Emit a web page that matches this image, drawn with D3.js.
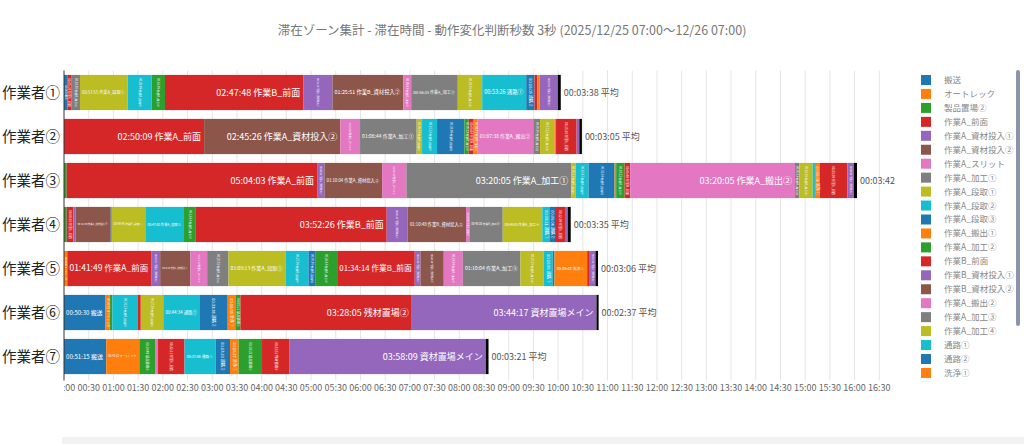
<!DOCTYPE html>
<html>
<head>
<meta charset="utf-8">
<script src="https://d3js.org/d3.v7.min.js"></script>
<style>
  body { margin: 0; background: #fff; }
  svg { display: block; font-family: "Noto Sans CJK JP", "Noto Sans", sans-serif; }
</style>
</head>
<body>
<div id="chart"></div>
<script>
// ---- data ----
var title = "滞在ゾーン集計 - 滞在時間 - 動作変化判断秒数 3秒 (2025/12/25 07:00〜12/26 07:00)";
var workers = ["作業者①", "作業者②", "作業者③", "作業者④", "作業者⑤", "作業者⑥", "作業者⑦"];
var zones = ["搬送", "オートレック", "製品置場②", "作業A_前面", "作業A_資材投入①", "作業A_資材投入②",
  "作業A_スリット", "作業A_加工①", "作業A_段取①", "作業A_段取②", "作業A_段取③", "作業A_搬出①",
  "作業A_加工②", "作業B_前面", "作業B_資材投入①", "作業B_資材投入②", "作業A_搬出②", "作業A_加工③",
  "作業A_加工④", "通路①", "通路②", "洗浄①", "製品置場①", "残材置場②", "資材置場メイン", "残材置場①"];

// [zone index, seconds] in order of time
var seg1 = [[0,240],[3,320],[7,605],[8,3475],[9,1749],[12,969],[13,10068],[14,2135],[15,5151],[16,583],
  [17,3395],[18,1778],[19,3206],[20,605],[3,195],[21,190],[4,1311]];
var seg2 = [[3,10209],[5,9926],[6,1435],[7,4124],[8,393],[9,1093],[10,1989],[12,313],[13,364],[11,291],
  [16,4058],[17,488],[18,1042],[21,124],[3,1501],[4,197]];
var seg3 = [[2,197],[3,18243],[4,532],[5,4204],[6,1770],[7,12005],[8,321],[9,947],[10,1894],[11,117],
  [12,612],[13,408],[16,12005],[17,313],[18,976],[19,168],[21,364],[3,1989],[4,488]];
var seg4 = [[2,197],[3,481],[4,175],[5,2550],[0,73],[8,2448],[9,2820],[12,823],[13,13946],[14,1530],
  [15,4248],[16,240],[17,2433],[18,2885],[19,561],[20,364],[3,729],[4,200]];
var seg5 = [[1,240],[3,6109],[4,656],[5,2208],[6,1217],[7,1552],[8,4153],[9,1676],[10,488],[12,1603],
  [13,5654],[14,415],[15,1698],[16,1384],[17,4204],[18,1698],[19,656],[20,124],[21,2383],[3,189],[4,415]];
var seg6 = [[0,3030],[1,291],[2,197],[9,1873],[3,204],[8,1639],[19,2674],[20,2018],[21,605],[22,321],
  [23,12485],[24,13457]];
var seg7 = [[0,3075],[1,2412],[2,1188],[6,175],[3,1931],[19,2266],[20,1049],[21,627],[22,1705],[23,2011],
  [24,14289]];
var rows = [seg1, seg2, seg3, seg4, seg5, seg6, seg7];
var avgSec = [218, 185, 222, 215, 186, 157, 201];
var tickSec = d3.range(0, 59401, 1800);

// ---- layout ----
var width = 1024, height = 444;
var plotLeft = 64, plotRight = 904, plotTop = 70.5, plotBottom = 378.5;

var svg = d3.select("#chart").append("svg")
  .attr("width", width)
  .attr("height", height);

var defs = svg.append("defs");
defs.append("clipPath").attr("id", "plotClip")
  .append("rect").attr("x", plotLeft).attr("y", 0).attr("width", 897 - plotLeft).attr("height", height);
defs.append("clipPath").attr("id", "legendClip")
  .append("rect").attr("x", 910).attr("y", 66).attr("width", 110).attr("height", 316);

var x = d3.scaleLinear().domain([0, 61200]).range([plotLeft, plotRight]);
var y = d3.scaleBand().domain(workers).range([plotTop, plotBottom])
  .paddingInner(0.2).paddingOuter(0.1);
var color = function(i) { return d3.schemeCategory10[i % 10]; };
var two = d3.format("02d");

function hms(s) {
  return two(Math.floor(s / 3600)) + ":" + two(Math.floor(s % 3600 / 60)) + ":" + two(s % 60);
}
function hm(s) {
  return two(Math.floor(s / 3600)) + ":" + two(s % 3600 / 60);
}

// title
svg.append("text")
  .attr("x", 512).attr("y", 35)
  .attr("text-anchor", "middle")
  .style("font-size", "12.5px")
  .style("fill", "#777")
  .text(title);

// grid lines
svg.append("g").selectAll("line")
  .data(tickSec.slice(1))
  .enter().append("line")
  .attr("x1", function(d) { return x(d); })
  .attr("x2", function(d) { return x(d); })
  .attr("y1", plotTop).attr("y2", plotBottom + 2)
  .attr("stroke", "#e6e6e6")
  .attr("stroke-width", 1);

// x tick labels (left one is cut by the plot edge like the original)
svg.append("g")
  .attr("clip-path", "url(#plotClip)")
  .selectAll("text")
  .data(tickSec)
  .enter().append("text")
  .attr("x", function(d) { return x(d); })
  .attr("y", plotBottom + 12)
  .attr("text-anchor", "middle")
  .style("font-size", "9px")
  .style("fill", "#666")
  .text(function(d) { return hm(d); });

// bars
var bh = y.bandwidth();
rows.forEach(function(segs, r) {
  var g = svg.append("g").attr("class", "row");
  var yy = y(workers[r]);
  var t = 0;
  var items = segs.map(function(s) {
    var o = { z: s[0], sec: s[1], t0: t };
    t += s[1];
    return o;
  });

  g.selectAll("rect.seg")
    .data(items)
    .enter().append("rect")
    .attr("class", "seg")
    .attr("x", function(d) { return x(d.t0); })
    .attr("y", yy)
    .attr("width", function(d) { return x(d.t0 + d.sec) - x(d.t0); })
    .attr("height", bh)
    .attr("fill", function(d) { return color(d.z); });

  // average piece at the end
  g.append("rect")
    .attr("x", x(t))
    .attr("y", yy)
    .attr("width", x(t + avgSec[r]) - x(t))
    .attr("height", bh)
    .attr("fill", "#000");

  g.append("text")
    .attr("clip-path", "url(#plotClip)")
    .attr("x", x(t + avgSec[r]) + 3)
    .attr("y", yy + bh / 2)
    .attr("dy", "0.35em")
    .style("font-size", "9px")
    .style("fill", "#555")
    .text(hms(avgSec[r]) + " 平均");

  // labels inside pieces: wide ones horizontal, narrow ones turned
  items.forEach(function(d) {
    var x0 = x(d.t0), x1 = x(d.t0 + d.sec), w = x1 - x0;
    if (w < 3) return;
    var lbl = g.append("text")
      .style("font-size", "9px")
      .style("fill", "#fff")
      .text(hms(d.sec) + " " + zones[d.z]);
    var len = lbl.node().getComputedTextLength();
    if (w >= 30) {
      var f = Math.min(9, 9 * (w - 5) / len);
      lbl.style("font-size", f + "px")
        .attr("x", x1 - 3)
        .attr("y", yy + bh / 2)
        .attr("dy", "0.35em")
        .attr("text-anchor", "end");
    } else {
      var fv = Math.min(9, 9 * (bh - 6) / len, w - 1);
      lbl.style("font-size", fv + "px")
        .attr("text-anchor", "middle")
        .attr("dy", "0.35em")
        .attr("transform", "translate(" + (x0 + w / 2) + "," + (yy + bh / 2) + ") rotate(90)");
    }
  });
});

// y axis
svg.append("line")
  .attr("x1", plotLeft).attr("x2", plotLeft)
  .attr("y1", plotTop).attr("y2", plotBottom + 2)
  .attr("stroke", "#333");

svg.append("g").selectAll("text")
  .data(workers)
  .enter().append("text")
  .attr("x", plotLeft - 4)
  .attr("y", function(d) { return y(d) + bh / 2; })
  .attr("dy", "0.35em")
  .attr("text-anchor", "end")
  .style("font-size", "14.5px")
  .style("fill", "#222")
  .text(function(d) { return d; });

// legend (scrolling list, only the top part visible)
var legend = svg.append("g").attr("clip-path", "url(#legendClip)");
var item = legend.selectAll("g")
  .data(zones)
  .enter().append("g")
  .attr("transform", function(d, i) { return "translate(921," + (80 + i * 13.95) + ")"; });
item.append("rect")
  .attr("x", 0).attr("y", -5)
  .attr("width", 10).attr("height", 10)
  .attr("fill", function(d, i) { return color(i); });
item.append("text")
  .attr("x", 23).attr("dy", "0.35em")
  .style("font-size", "8.5px")
  .style("fill", "#888")
  .text(function(d) { return d; });

// scroll bar
svg.append("rect")
  .attr("x", 1016).attr("y", 70)
  .attr("width", 4).attr("height", 256)
  .attr("rx", 2)
  .attr("fill", "#8d93aa");

// slider strip at the bottom
svg.append("rect")
  .attr("x", 62).attr("y", 437)
  .attr("width", 962).attr("height", 7)
  .attr("fill", "#f2f2f2");
</script>
</body>
</html>
